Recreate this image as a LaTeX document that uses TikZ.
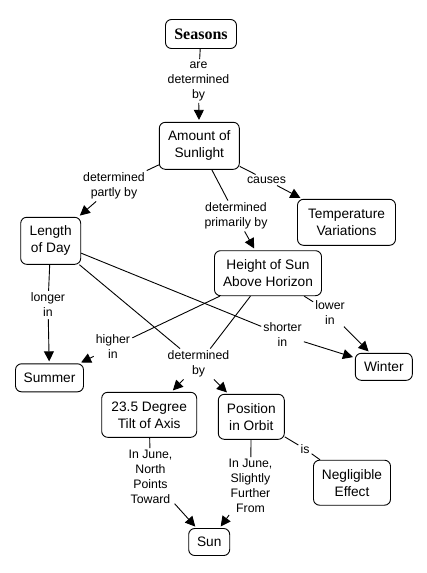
\documentclass[tikz,border=0pt]{standalone}
\usepackage{fontspec}
\setmainfont{Liberation Sans}
\newfontfamily\serifbold{Liberation Serif}
\usetikzlibrary{arrows.meta}
\begin{document}
\begin{tikzpicture}[x=1pt,y=-1pt,
  concept/.style={draw, rounded corners=6pt, line width=0.9pt, align=center, inner sep=1pt,
    font=\fontsize{13.7}{17}\selectfont},
  lbl/.style={align=center, inner sep=2pt, font=\fontsize{12.3}{15}\selectfont},
  link/.style={line width=0.9pt},
  arr/.style={line width=0.9pt, -{Triangle[length=10pt,width=10pt]}, shorten >=2pt}]
\useasboundingbox (0,0) rectangle (427,573);
% concepts
\node[concept, minimum width=71pt, minimum height=29pt] (seasons) at (201,34) {\serifbold\fontsize{16}{18}\selectfont\bfseries Seasons};
\node[concept, minimum width=80pt, minimum height=47pt] (amount) at (199.3,145.8) {Amount of\\Sunlight};
\node[concept, minimum width=60pt, minimum height=47pt] (length) at (50.7,240.8) {Length\\of Day};
\node[concept, minimum width=98pt, minimum height=46pt] (temp) at (346.5,222.3) {Temperature\\Variations};
\node[concept, minimum width=107pt, minimum height=45pt] (height) at (268,273.2) {Height of Sun\\Above Horizon};
\node[concept, minimum width=68pt, minimum height=28pt] (summer) at (49.5,377.8) {Summer};
\node[concept, minimum width=57pt, minimum height=27pt] (winter) at (383.8,366.8) {Winter};
\node[concept, minimum width=95pt, minimum height=45pt] (tilt) at (149.2,414.8) {23.5 Degree\\Tilt of Axis};
\node[concept, minimum width=66pt, minimum height=45pt] (orbit) at (251.3,416.8) {Position\\in Orbit};
\node[concept, minimum width=77pt, minimum height=45pt] (negl) at (352,482.7) {Negligible\\Effect};
\node[concept, minimum width=41pt, minimum height=27pt] (sun) at (209.2,542) {Sun};
% link labels
\node[lbl] (l1) at (198.5,81) {are\\determined\\by};
\node[lbl] (l2) at (114,186) {determined\\partly by};
\node[lbl] (l3) at (266.5,180) {causes};
\node[lbl] (l4) at (236,216) {determined\\primarily by};
\node[lbl] (l5) at (48,305) {longer\\in};
\node[lbl] (l6) at (113,347) {higher\\in};
\node[lbl] (l7) at (282.5,335) {shorter\\in};
\node[lbl] (l8) at (330,312.5) {lower\\in};
\node[lbl] (l9) at (198.5,364) {determined\\by};
\node[lbl] (l10) at (150.5,477) {In June,\\North\\Points\\Toward};
\node[lbl] (l11) at (250.5,486) {In June,\\Slightly\\Further\\From};
\node[lbl] (l12) at (305,449) {is};
% connectors
\draw[link] (seasons) -- (l1); \draw[arr] (l1) -- (amount);
\draw[link] (amount) -- (l2); \draw[arr] (l2) -- (length);
\draw[link] (amount) -- (l3); \draw[arr] (l3) -- (temp);
\draw[link] (amount) -- (l4); \draw[arr] (l4) -- (height);
\draw[link] (length) -- (l5); \draw[arr] (l5) -- (summer);
\draw[link] (height) -- (l6); \draw[arr] (l6) -- (summer);
\draw[link] (length) -- (l7); \draw[arr] (l7) -- (winter);
\draw[link] (height) -- (l8); \draw[arr] (l8) -- (winter);
\draw[link] (length) -- (l9); \draw[link] (height) -- (l9);
\draw[arr] (l9) -- (tilt); \draw[arr] (l9) -- (orbit);
\draw[link] (tilt) -- (l10); \draw[arr] (l10) -- (sun);
\draw[link] (orbit) -- (l11); \draw[arr] (l11) -- (sun);
\draw[link] (orbit) -- (l12); \draw[link] (l12) -- (negl);
\end{tikzpicture}
\end{document}
